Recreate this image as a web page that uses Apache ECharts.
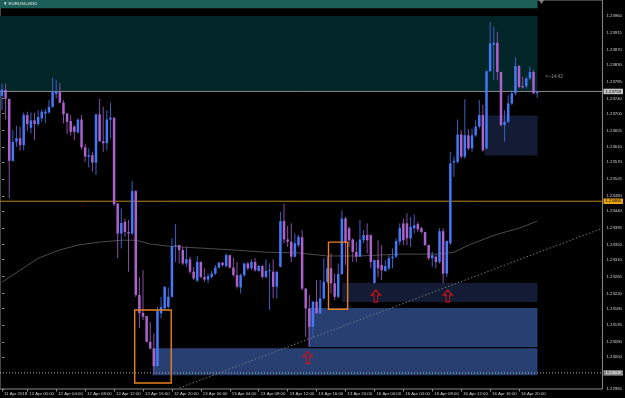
<!DOCTYPE html>
<html><head><meta charset="utf-8">
<script src="https://cdn.jsdelivr.net/npm/echarts@6/dist/echarts.min.js"></script>
<style>html,body{margin:0;padding:0;background:#000;overflow:hidden}#c{width:625px;height:398px}</style>
</head><body><div id="c"></div>
<script>
// ---- data ----
const opens = [1.23747,1.23763,1.23739,1.23574,1.23625,1.23634,1.23616,1.23696,1.23662,1.23682,
1.23672,1.23687,1.23700,1.23703,1.23718,1.23752,1.23758,1.23729,1.23700,1.23680,
1.23665,1.23649,1.23684,1.23610,1.23585,1.23589,1.23569,1.23698,1.23626,1.23621,
1.23684,1.23689,1.23460,1.23380,1.23411,1.23384,1.23380,1.23493,1.23216,1.23168,
1.23160,1.23091,1.23073,1.23026,1.23167,1.23180,1.23184,1.23211,1.23346,1.23349,
1.23336,1.23300,1.23311,1.23278,1.23254,1.23304,1.23264,1.23257,1.23264,1.23273,
1.23289,1.23302,1.23293,1.23322,1.23289,1.23269,1.23236,1.23269,1.23300,1.23287,
1.23304,1.23280,1.23293,1.23264,1.23280,1.23278,1.23238,1.23291,1.23413,1.23364,
1.23358,1.23318,1.23349,1.23370,1.23233,1.23180,1.23131,1.23198,1.23167,1.23207,
1.23251,1.23287,1.23247,1.23211,1.23272,1.23420,1.23394,1.23364,1.23331,1.23318,
1.23362,1.23376,1.23376,1.23248,1.23309,1.23296,1.23280,1.23287,1.23314,1.23318,
1.23358,1.23407,1.23407,1.23367,1.23394,1.23405,1.23394,1.23384,1.23349,1.23314,
1.23318,1.23304,1.23386,1.23273,1.23354,1.23569,1.23571,1.23644,1.23585,1.23642,
1.23607,1.23642,1.23665,1.23696,1.23607,1.23813,1.23884,1.23889,1.23811,1.23669,
1.23678,1.23727,1.23754,1.23827,1.23773,1.23773,1.23794,1.23811,1.23754];
const closes = [1.23764,1.23740,1.23574,1.23624,1.23634,1.23616,1.23696,1.23672,1.23682,1.23672,
1.23691,1.23705,1.23705,1.23718,1.23758,1.23758,1.23729,1.23698,1.23678,1.23651,
1.23651,1.23684,1.23610,1.23585,1.23589,1.23569,1.23698,1.23626,1.23621,1.23684,
1.23689,1.23458,1.23380,1.23408,1.23384,1.23380,1.23493,1.23216,1.23167,1.23158,
1.23091,1.23073,1.23026,1.23173,1.23184,1.23238,1.23211,1.23346,1.23349,1.23336,
1.23300,1.23311,1.23278,1.23260,1.23304,1.23264,1.23257,1.23266,1.23273,1.23289,
1.23302,1.23296,1.23322,1.23289,1.23269,1.23238,1.23269,1.23300,1.23287,1.23304,
1.23282,1.23293,1.23264,1.23280,1.23282,1.23238,1.23278,1.23413,1.23364,1.23358,
1.23318,1.23354,1.23371,1.23233,1.23180,1.23131,1.23198,1.23167,1.23207,1.23251,
1.23287,1.23247,1.23211,1.23272,1.23420,1.23354,1.23362,1.23331,1.23318,1.23364,
1.23376,1.23362,1.23304,1.23309,1.23287,1.23282,1.23293,1.23314,1.23318,1.23360,
1.23394,1.23362,1.23367,1.23398,1.23402,1.23391,1.23384,1.23349,1.23314,1.23322,
1.23304,1.23386,1.23273,1.23360,1.23567,1.23573,1.23644,1.23585,1.23642,1.23607,
1.23642,1.23665,1.23696,1.23602,1.23813,1.23887,1.23889,1.23811,1.23669,1.23678,
1.23727,1.23754,1.23827,1.23771,1.23770,1.23794,1.23811,1.23754,1.23758];
const lows = [1.23709,1.23684,1.23474,1.23571,1.23611,1.23601,1.23602,1.23653,1.23647,1.23629,
1.23666,1.23678,1.23675,1.23700,1.23715,1.23740,1.23727,1.23674,1.23645,1.23642,
1.23629,1.23647,1.23604,1.23571,1.23556,1.23545,1.23536,1.23625,1.23598,1.23602,
1.23634,1.23453,1.23314,1.23340,1.23371,1.23278,1.23376,1.23211,1.23127,1.23149,
1.23089,1.23071,1.23002,1.23024,1.23153,1.23176,1.23180,1.23209,1.23304,1.23300,
1.23296,1.23291,1.23273,1.23256,1.23251,1.23260,1.23251,1.23247,1.23260,1.23269,
1.23287,1.23291,1.23289,1.23287,1.23264,1.23233,1.23220,1.23264,1.23282,1.23282,
1.23278,1.23278,1.23260,1.23260,1.23176,1.23207,1.23207,1.23290,1.23354,1.23344,
1.23304,1.23316,1.23344,1.23229,1.23104,1.23078,1.23100,1.23166,1.23165,1.23202,
1.23247,1.23220,1.23202,1.23207,1.23269,1.23296,1.23344,1.23304,1.23304,1.23317,
1.23354,1.23327,1.23287,1.23247,1.23264,1.23256,1.23278,1.23282,1.23287,1.23314,
1.23349,1.23349,1.23349,1.23344,1.23380,1.23384,1.23380,1.23347,1.23309,1.23291,
1.23287,1.23300,1.23247,1.23264,1.23349,1.23531,1.23567,1.23580,1.23580,1.23602,
1.23598,1.23638,1.23660,1.23598,1.23604,1.23811,1.23789,1.23789,1.23666,1.23625,
1.23674,1.23723,1.23749,1.23767,1.23767,1.23767,1.23789,1.23752,1.23742];
const highs = [1.23780,1.23780,1.23740,1.23656,1.23667,1.23665,1.23703,1.23705,1.23703,1.23702,
1.23709,1.23711,1.23712,1.23736,1.23796,1.23789,1.23782,1.23736,1.23702,1.23696,
1.23669,1.23687,1.23696,1.23620,1.23607,1.23598,1.23698,1.23739,1.23718,1.23709,
1.23729,1.23689,1.23460,1.23447,1.23420,1.23416,1.23520,1.23496,1.23264,1.23282,
1.23160,1.23144,1.23113,1.23184,1.23211,1.23238,1.23236,1.23367,1.23405,1.23350,
1.23344,1.23344,1.23318,1.23291,1.23320,1.23305,1.23287,1.23273,1.23280,1.23296,
1.23304,1.23304,1.23327,1.23323,1.23316,1.23304,1.23273,1.23301,1.23304,1.23311,
1.23314,1.23296,1.23296,1.23311,1.23300,1.23311,1.23279,1.23438,1.23460,1.23400,
1.23407,1.23380,1.23376,1.23389,1.23234,1.23216,1.23199,1.23256,1.23256,1.23314,
1.23318,1.23327,1.23273,1.23300,1.23442,1.23424,1.23398,1.23367,1.23358,1.23416,
1.23389,1.23407,1.23377,1.23310,1.23362,1.23349,1.23309,1.23322,1.23340,1.23367,
1.23407,1.23420,1.23434,1.23424,1.23431,1.23411,1.23398,1.23385,1.23350,1.23331,
1.23322,1.23394,1.23394,1.23361,1.23598,1.23585,1.23684,1.23656,1.23738,1.23658,
1.23660,1.23682,1.23736,1.23723,1.23816,1.23945,1.23931,1.23918,1.23812,1.23709,
1.23749,1.23763,1.23851,1.23829,1.23798,1.23798,1.23825,1.23816,1.23759];

const xTickBars = [0,7,15,23,31,39,47,55,63,71,79,87,95,103,111,119,127,135,143];
const xTickLabels = ['11 Apr 2018','12 Apr 00:00','12 Apr 04:00','12 Apr 08:00','12 Apr 12:00','12 Apr 16:00','12 Apr 20:00','13 Apr 00:00','13 Apr 04:00','13 Apr 08:00','13 Apr 12:00','13 Apr 16:00','13 Apr 20:00','16 Apr 00:00','16 Apr 04:00','16 Apr 08:00','16 Apr 12:00','16 Apr 16:00','16 Apr 20:00'];
const yTickValues = [1.23960,1.23915,1.23870,1.23830,1.23785,1.23740,1.23700,1.23655,1.23610,1.23570,1.23525,1.23480,1.23440,1.23395,1.23350,1.23310,1.23265,1.23220,1.23180,1.23135,1.23090,1.23050,1.22965];
const priceMin = 1.22965, priceMax = 1.24003;
const barMin = -0.55, barMax = 166.07;

const maBars = [0,5,10,16,21,27,33,37,41,46,55,64,73,82,90,99,110,121,125,129,137,143,148];
const maValues = [1.23250,1.23282,1.23314,1.23336,1.23349,1.23357,1.23362,1.23362,1.23352,1.23346,1.23341,1.23336,1.23330,1.23328,1.23320,1.23320,1.23325,1.23325,1.23330,1.23349,1.23378,1.23394,1.23413];

const trendBars = [49.1, 166.07];
const trendPrices = [1.22968, 1.23394];

const zoneStart = [-0.55, -0.55, 41.7, 84.7, 94.1, 133.5];
const zoneEnd   = [148.1, 148.1, 148.1, 148.1, 148.1, 148.1];
const zoneHigh  = [1.24003, 1.23960, 1.23074, 1.23181, 1.23248, 1.23695];
const zoneLow   = [1.23981, 1.23759, 1.23002, 1.23077, 1.23197, 1.23588];

const boxStart = [36.7, 90.3];
const boxEnd   = [46.8, 95.6];
const boxHigh  = [1.23176, 1.23357];
const boxLow   = [1.22981, 1.23178];

const arrowBars = [84.6, 103.4, 123.3];
const arrowPrices = [1.23049, 1.23213, 1.23213];

const levelValues = [1.23759, 1.23466, 1.23008];
const levelTexts  = ['1.23759', '1.23466', '1.23008'];
const timerBar = 150.3, timerPrice = 1.23797, timerText = '<--14:42';
const shiftBar = 149.2;
const titleText = '\u25BC EURUSD,M30';

// ---- styles ----
const FONT = 'Liberation Sans';
const STY = {
  up: '#4379f4', dn: '#ab62cc', wickUp: '#3a60c4', wickDn: '#8a4ca6',
  zoneFill: ['#1d6059', '#022627', '#283f72', '#283f72', '#131c34', '#131c34'],
  box: '#e8801e', arrow: '#e01010', ma: '#4c4c4c', trend: '#777777',
  axis: '#8c8c8c', text: '#d0d0d0',
  levelLine: [
    {color: '#8a8a8a', width: 1, type: 'solid'},
    {color: '#b8861e', width: 1, type: 'solid'},
    {color: '#b0b0b0', width: 1, type: [1, 2]}
  ],
  levelBg: ['#c4c4c4', '#e8a418', '#8a8a8a'],
  levelFg: ['#000000', '#000000', '#f0f0f0']
};

const chart = echarts.init(document.getElementById('c'), null, {renderer: 'canvas', devicePixelRatio: 1});

const candleData = opens.map((o, i) => [i, o, closes[i], lows[i], highs[i]]);
const zoneData = zoneStart.map((s, k) => [s, zoneEnd[k], zoneHigh[k], zoneLow[k], k]);
const boxData = boxStart.map((s, k) => [s, boxEnd[k], boxHigh[k], boxLow[k]]);

function rectFrom(api) {
  const p1 = api.coord([api.value(0), api.value(2)]);
  const p2 = api.coord([api.value(1), api.value(3)]);
  return {x: p1[0], y: p1[1], width: p2[0] - p1[0], height: p2[1] - p1[1]};
}

const levelSeries = levelValues.map((v, k) => ({
  type: 'line', z: 3, silent: true, symbol: 'none',
  data: [[barMin, v], [barMax, v]],
  lineStyle: STY.levelLine[k],
  endLabel: {show: true, distance: 1, formatter: levelTexts[k],
    backgroundColor: STY.levelBg[k], color: STY.levelFg[k], fontSize: 4.3, fontFamily: FONT, padding: [1, 2, 0.5, 2]}
}));

chart.setOption({
  animation: false,
  backgroundColor: '#000000',
  title: {text: titleText, left: 3, top: 1.5, padding: 0,
    textStyle: {color: '#e6e6e6', fontSize: 4.4, fontWeight: 'normal', fontFamily: FONT}},
  grid: {left: 0, right: 21, top: 0, bottom: 9, show: true, borderColor: STY.axis, borderWidth: 1, backgroundColor: '#000'},
  xAxis: {
    type: 'value', min: barMin, max: barMax,
    splitLine: {show: false}, axisLine: {show: false},
    axisTick: {show: true, customValues: xTickBars, length: 2.5, lineStyle: {color: STY.axis}},
    axisLabel: {customValues: xTickBars, align: 'left', margin: 2.5, padding: [0, 0, 0, 2],
      color: STY.text, fontSize: 4.3, fontFamily: FONT,
      formatter: v => { const k = xTickBars.indexOf(Math.round(v)); return k >= 0 ? xTickLabels[k] : ''; }}
  },
  yAxis: {
    type: 'value', position: 'right', min: priceMin, max: priceMax, scale: true,
    splitLine: {show: false}, axisLine: {show: false},
    axisTick: {show: true, customValues: yTickValues, length: 2.5, lineStyle: {color: STY.axis}},
    axisLabel: {customValues: yTickValues, margin: 4, color: STY.text, fontSize: 4.3, fontFamily: FONT,
      formatter: v => v.toFixed(5)}
  },
  series: [
    {type: 'custom', z: 1, silent: true, data: zoneData,
      renderItem: (p, api) => ({type: 'rect', shape: rectFrom(api), style: {fill: STY.zoneFill[api.value(4)]}})},
    {type: 'line', z: 2, silent: true, symbol: 'none', data: maBars.map((b, k) => [b, maValues[k]]),
      lineStyle: {color: STY.ma, width: 1}},
    {type: 'line', z: 3, silent: true, symbol: 'none', data: trendBars.map((b, k) => [b, trendPrices[k]]),
      lineStyle: {color: STY.trend, width: 1, type: [1.5, 2]}},
    ...levelSeries,
    {type: 'custom', z: 4, silent: true, data: candleData,
      renderItem: (p, api) => {
        const i = api.value(0), o = api.value(1), c = api.value(2), l = api.value(3), h = api.value(4);
        const pO = api.coord([i, o]), pC = api.coord([i, c]), pL = api.coord([i, l]), pH = api.coord([i, h]);
        const up = c >= o, bw = 2.5;
        const top = Math.min(pO[1], pC[1]);
        const hh = Math.max(Math.abs(pO[1] - pC[1]), 1);
        return {type: 'group', children: [
          {type: 'line', shape: {x1: pH[0], y1: pH[1], x2: pL[0], y2: pL[1]}, style: {stroke: up ? STY.wickUp : STY.wickDn, lineWidth: 1}},
          {type: 'rect', shape: {x: pO[0] - bw / 2, y: top, width: bw, height: hh}, style: {fill: up ? STY.up : STY.dn}}
        ]};
      }},
    {type: 'custom', z: 5, silent: true, data: boxData,
      renderItem: (p, api) => ({type: 'rect', shape: rectFrom(api), style: {fill: null, stroke: STY.box, lineWidth: 1.4}})},
    {type: 'scatter', z: 6, silent: true, data: arrowBars.map((b, k) => [b, arrowPrices[k]]),
      symbol: 'path://M5,0 L10,5 L7,5 L7,12 L3,12 L3,5 L0,5 Z', symbolSize: [9, 12],
      itemStyle: {color: 'rgba(0,0,0,0)', borderColor: STY.arrow, borderWidth: 1.3}},
    {type: 'scatter', z: 6, silent: true, data: [[timerBar, timerPrice]], symbolSize: 0,
      label: {show: true, position: 'right', distance: 0, formatter: timerText, color: '#b8b8b8', fontSize: 4.6, fontFamily: FONT}},
    {type: 'scatter', z: 6, silent: true, data: [[shiftBar, priceMax]], symbol: 'triangle', symbolRotate: 180,
      symbolSize: [5, 4], symbolOffset: [0, 2], itemStyle: {color: '#9a9a9a'}}
  ]
});
</script>
</body></html>
